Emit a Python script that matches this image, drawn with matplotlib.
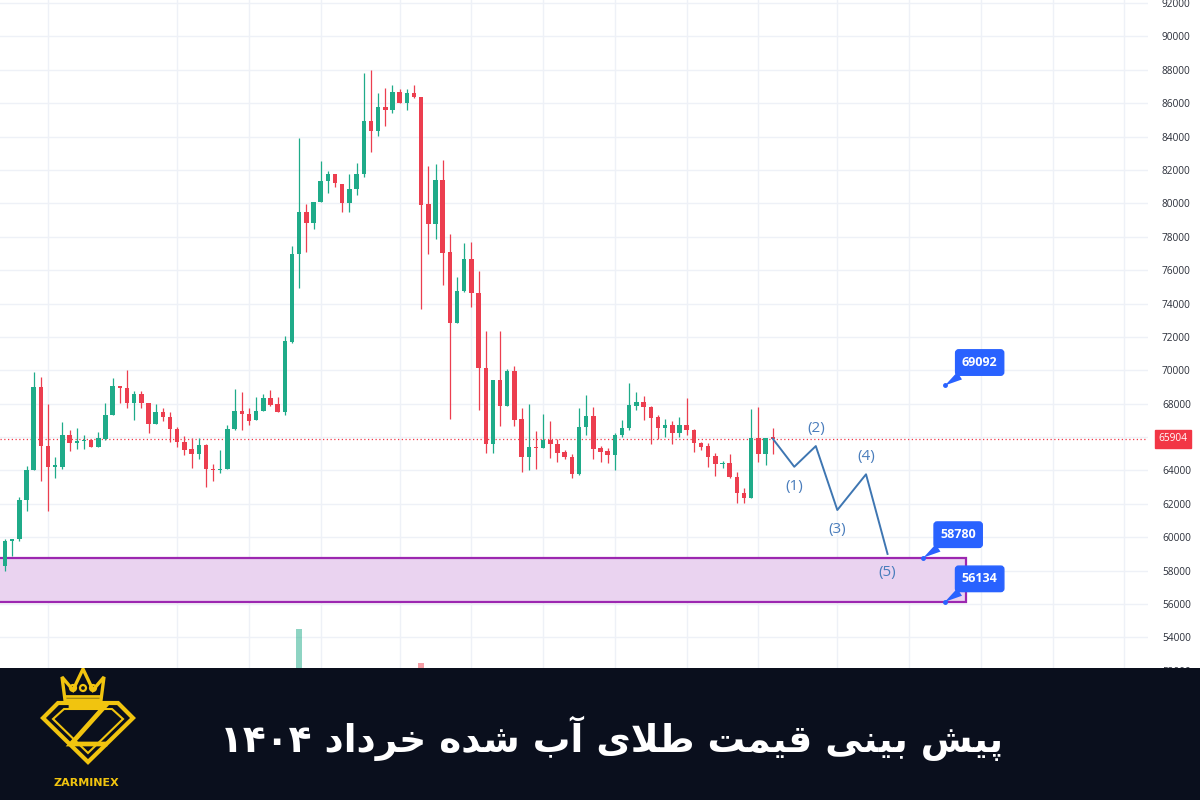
"""
Gold (melted) price forecast chart - candles, wave path, target zone and banner.
"""

import matplotlib
matplotlib.use("Agg")
import matplotlib.pyplot as plt
from matplotlib.patches import Rectangle, Polygon, Circle
from matplotlib.transforms import blended_transform_factory

# ---- candle data (index = candle number) ----
OPEN = [56500, 58260, 59800, 59870, 62230, 64020, 69010, 65480, 64200, 64200,
        66120, 65630, 65740, 65810, 65430, 65890, 67350, 69060, 68960, 68040,
        68580, 68070, 66790, 67480, 67220, 66500, 65680, 65300, 64970, 65510,
        64070, 64020, 64100, 66500, 67550, 67400, 67020, 67550, 68320, 67990,
        67480, 71700, 76960, 79460, 78800, 80100, 81340, 81760, 81140, 80040,
        80840, 81760, 84950, 84350, 85750, 85590, 86650, 86030, 86590, 86390,
        79960, 78760, 81400, 77060, 72850, 74770, 76640, 74610, 70160, 65560,
        69420, 67860, 69980, 67060, 64780, 65420, 65360, 65820, 65580, 65080,
        64780, 63790, 66620, 67260, 65320, 65160, 64920, 66120, 66520, 67880,
        68120, 67820, 67180, 66520, 66720, 66220, 66720, 66420, 65660, 65480,
        64880, 64370, 64430, 63630, 62630, 62330, 65960, 64980, 65960]
HIGH = [58300, 59870, 59870, 62410, 64280, 69910, 69600, 67990, 64790, 66890,
        66450, 66530, 66120, 65860, 66320, 68040, 69520, 69060, 70040, 68760,
        68760, 68070, 67990, 67730, 67480, 66630, 66070, 65940, 65940, 65610,
        64400, 65220, 66710, 68880, 68680, 67730, 68420, 68580, 68830, 68370,
        72080, 77460, 83890, 79960, 80100, 82540, 81960, 81760, 81140, 81760,
        82440, 87790, 87990, 86630, 86890, 87090, 86830, 86830, 87090, 86390,
        82260, 82360, 82600, 78160, 75610, 77600, 77700, 75970, 72370, 69420,
        72370, 70100, 70260, 67720, 67960, 66360, 67380, 66980, 65860, 65220,
        64980, 67720, 68520, 67820, 65480, 65320, 66260, 67020, 69260, 68680,
        68460, 67860, 67320, 67060, 66980, 67220, 68320, 66460, 65720, 65660,
        65020, 64590, 64980, 63930, 62930, 67660, 67820, 65960, 66520]
LOW = [56300, 58000, 58900, 59800, 61590, 64020, 63380, 61590, 63560, 64070,
       65170, 65300, 65300, 65380, 65430, 65810, 67300, 68070, 67730, 67040,
       67730, 66250, 66790, 66960, 65680, 65380, 64920, 64150, 64660, 63000,
       63380, 63820, 64100, 66400, 66450, 66710, 67020, 67550, 67860, 67480,
       67350, 71620, 74950, 77100, 78440, 80060, 80640, 80960, 79460, 79460,
       80500, 81600, 83090, 84030, 84630, 85390, 85990, 85590, 86290, 73670,
       76960, 77840, 75110, 67080, 72850, 74710, 73810, 67620, 65020, 65020,
       66660, 67860, 66660, 63930, 64030, 64070, 65360, 64720, 64520, 64660,
       63530, 63730, 66120, 64660, 64520, 64430, 64030, 66020, 66420, 67620,
       67020, 65580, 65860, 66020, 65580, 66020, 66120, 65120, 65220, 64230,
       63670, 64130, 63530, 62030, 62030, 62330, 64490, 64330, 64980]
CLOSE = [58100, 59800, 59870, 62230, 64020, 69010, 65480, 64200, 64350, 66120,
         65630, 65760, 65810, 65430, 65940, 67350, 69060, 68960, 68040, 68580,
         68070, 66790, 67480, 67220, 66500, 65680, 65220, 64970, 65510, 64070,
         64020, 64100, 66500, 67550, 67400, 66960, 67550, 68320, 67940, 67480,
         71750, 76950, 79460, 78800, 80100, 81340, 81760, 81200, 80040, 80840,
         81760, 84950, 84350, 85750, 85590, 86650, 86030, 86590, 86350, 79900,
         78760, 81400, 77000, 72850, 74770, 76640, 74610, 70160, 65560, 69420,
         67860, 69980, 67020, 64780, 65420, 65360, 65820, 65580, 65060, 64780,
         63790, 66620, 67260, 65280, 65120, 64920, 66120, 66520, 67920, 68120,
         67780, 67160, 66520, 66720, 66220, 66720, 66420, 65620, 65420, 64820,
         64370, 64430, 63590, 62630, 62330, 65960, 64980, 65960, 65904]

# volume bars that peek out above the banner
VOL_INDEX = [42, 59]
VOL_VALUE = [21.4, 17.1]

LAST_PRICE = 65904
PRICE_TICKS = list(range(52000, 92001, 2000))
TIME_GRID = [7, 25, 35, 45, 56, 66, 76, 86, 96, 106, 117, 127, 137, 147, 157]

# forecast wave path
WAVE_X = [108, 111, 114, 117, 121, 124]
WAVE_Y = [65904, 64220, 65460, 61630, 63770, 59000]
WAVE_LABELS = ["(1)", "(2)", "(3)", "(4)", "(5)"]
WAVE_LABEL_X = [111, 114, 117, 121, 124]
WAVE_LABEL_Y = [63030, 66540, 60480, 64830, 57870]

# support zone and price callouts
ZONE_LOW = 56134
ZONE_HIGH = 58780
ZONE_END = 135
CALLOUT_X = [132, 129, 132]
CALLOUT_Y = [69092, 58780, 56134]

TITLE = "پیش بینی قیمت طلای آب شده خرداد ۱۴۰۴"

UP = "#1fab89"
DOWN = "#ec3e4f"
GRID = "#eef1f7"

# Arabic presentation forms: isolated, final, initial, medial
FORMS = {
    "ا": ("\uFE8D", "\uFE8E", None, None),
    "آ": ("\uFE81", "\uFE82", None, None),
    "ب": ("\uFE8F", "\uFE90", "\uFE91", "\uFE92"),
    "پ": ("\uFB56", "\uFB57", "\uFB58", "\uFB59"),
    "ت": ("\uFE95", "\uFE96", "\uFE97", "\uFE98"),
    "خ": ("\uFEA5", "\uFEA6", "\uFEA7", "\uFEA8"),
    "د": ("\uFEA9", "\uFEAA", None, None),
    "ر": ("\uFEAD", "\uFEAE", None, None),
    "ش": ("\uFEB5", "\uFEB6", "\uFEB7", "\uFEB8"),
    "ط": ("\uFEC1", "\uFEC2", "\uFEC3", "\uFEC4"),
    "ق": ("\uFED5", "\uFED6", "\uFED7", "\uFED8"),
    "ل": ("\uFEDD", "\uFEDE", "\uFEDF", "\uFEE0"),
    "م": ("\uFEE1", "\uFEE2", "\uFEE3", "\uFEE4"),
    "ن": ("\uFEE5", "\uFEE6", "\uFEE7", "\uFEE8"),
    "ه": ("\uFEE9", "\uFEEA", "\uFEEB", "\uFEEC"),
    "ی": ("\uFBFC", "\uFBFD", "\uFBFE", "\uFBFF"),
    "لا": ("\uFEFB", "\uFEFC", None, None),
}


def shape_word(word: str) -> str:
    """Join Persian letters by hand and return them in visual (LTR) order."""
    if word.isdigit():
        return word
    tokens = []
    k = 0
    while k < len(word):
        if word[k] == "ل" and k + 1 < len(word) and word[k + 1] == "ا":
            tokens.append("لا")
            k += 2
        else:
            tokens.append(word[k])
            k += 1
    out = []
    for k, t in enumerate(tokens):
        forms = FORMS.get(t)
        if forms is None:
            out.append(t)
            continue
        prev_joins = k > 0 and tokens[k - 1] in FORMS and FORMS[tokens[k - 1]][2] is not None
        next_joins = k < len(tokens) - 1 and tokens[k + 1] in FORMS and forms[2] is not None
        if prev_joins and next_joins:
            out.append(forms[3])
        elif prev_joins:
            out.append(forms[1])
        elif next_joins:
            out.append(forms[2])
        else:
            out.append(forms[0])
    return "".join(reversed(out))


def shape_rtl(text: str) -> str:
    return " ".join(shape_word(w) for w in reversed(text.split(" ")))


def draw_candles(ax):
    for i, (o, h, l, c) in enumerate(zip(OPEN, HIGH, LOW, CLOSE)):
        col = UP if c >= o else DOWN
        ax.vlines(i, l, h, color=col, lw=0.9, zorder=3)
        body = max(abs(c - o), 70)
        ax.bar(i, body, bottom=min(o, c), width=0.62, color=col, lw=0, zorder=4)


def draw_logo(axb):
    gold = "#f1c40f"
    crown = [(65, 100), (62, 123), (73, 110), (83, 131), (93, 110), (104, 123), (101, 100)]
    axb.add_patch(Polygon(crown, closed=True, fill=False, ec=gold, lw=2.4, joinstyle="miter"))
    axb.plot([66, 100], [104, 104], color=gold, lw=2.0)
    for cx in (73, 83, 93):
        axb.add_patch(Circle((cx, 112), 3.0, fill=False, ec=gold, lw=1.6))
    gem = [(58, 97), (118, 97), (133, 82), (88, 38), (43, 82)]
    axb.add_patch(Polygon(gem, closed=True, fill=False, ec=gold, lw=3.0, joinstyle="miter"))
    inner = [(64, 91), (112, 91), (123, 81), (88, 47), (53, 81)]
    axb.add_patch(Polygon(inner, closed=True, fill=False, ec=gold, lw=1.5, joinstyle="miter"))
    axb.plot([71, 105, 71, 105], [94, 94, 56, 56], color=gold, lw=3.4, solid_joinstyle="miter")
    axb.text(86, 17, "ZARMINEX", color=gold, fontsize=8, fontweight="bold",
             ha="center", va="center", family="DejaVu Sans")


def main() -> None:
    fig = plt.figure(figsize=(12, 8), dpi=100, facecolor="white")
    ax = fig.add_axes([0, 0, 1148 / 1200, 1])
    ax.set_facecolor("white")

    ax.set_xlim(0.3, 160.3)
    ax.set_ylim(44260, 92180)

    for p in PRICE_TICKS:
        ax.axhline(p, color=GRID, lw=1, zorder=0)
    for g in TIME_GRID:
        ax.axvline(g, color=GRID, lw=1, zorder=0)

    # support zone
    x0 = ax.get_xlim()[0] - 2
    ax.add_patch(Rectangle((x0, ZONE_LOW), ZONE_END - x0, ZONE_HIGH - ZONE_LOW,
                           fc="#ead3f0", ec="#9c27b0", lw=1.6, zorder=1))

    ax.axhline(LAST_PRICE, color="#f23645", lw=0.9, ls=(0, (1, 2)), zorder=2)

    draw_candles(ax)

    # volume (twin axis, bottom aligned)
    axv = ax.twinx()
    axv.set_ylim(0, 100)
    axv.axis("off")
    vcols = [UP if CLOSE[i] >= OPEN[i] else DOWN for i in VOL_INDEX]
    axv.bar(VOL_INDEX, VOL_VALUE, width=0.8, color=vcols, alpha=0.5, lw=0)

    # forecast path
    ax.plot(WAVE_X, WAVE_Y, color="#3e76b2", lw=1.4, zorder=5)
    for lab, lx, ly in zip(WAVE_LABELS, WAVE_LABEL_X, WAVE_LABEL_Y):
        ax.text(lx, ly, lab, color="#4a7dbc", fontsize=11, ha="center", va="center",
                family="Open Sans", zorder=6)

    # price callouts
    for cx, cy in zip(CALLOUT_X, CALLOUT_Y):
        ax.annotate(f"{cy}", xy=(cx, cy), xytext=(25, 16.5), textcoords="offset points",
                    color="white", fontsize=9, fontweight="bold", family="Open Sans",
                    ha="center", va="center", zorder=7,
                    bbox=dict(boxstyle="round,pad=0.5,rounding_size=0.25",
                              fc="#2962ff", ec="#2962ff"),
                    arrowprops=dict(arrowstyle="wedge,tail_width=0.7,shrink_factor=0.5",
                                    fc="#2962ff", ec="none", shrinkA=0, shrinkB=0))
        ax.plot(cx, cy, "o", ms=2.5, color="#2962ff", zorder=7)

    # right price scale (the tick hidden behind the last-price tag is left blank)
    ax.yaxis.tick_right()
    ax.set_yticks(PRICE_TICKS)
    labels = ["" if abs(p - LAST_PRICE) < 1000 else str(p) for p in PRICE_TICKS]
    ax.set_yticklabels(labels, fontsize=7.3, color="#2a2e39", family="Open Sans")
    ax.tick_params(axis="y", length=0, pad=10)
    ax.set_xticks([])
    for s in ax.spines.values():
        s.set_visible(False)

    trans = blended_transform_factory(ax.transAxes, ax.transData)
    ax.text(1.0218, LAST_PRICE, str(LAST_PRICE), transform=trans, color="white",
            fontsize=7.3, family="Open Sans", ha="center", va="center", clip_on=False,
            bbox=dict(boxstyle="square,pad=0.35", fc="#f23645", ec="#f23645"))

    # bottom banner
    axb = fig.add_axes([0, 0, 1, 132 / 800])
    axb.set_facecolor("#0a0f1d")
    axb.set_xlim(0, 1200)
    axb.set_ylim(0, 132)
    axb.set_xticks([])
    axb.set_yticks([])
    for s in axb.spines.values():
        s.set_visible(False)
    draw_logo(axb)
    axb.text(612, 62, shape_rtl(TITLE), color="white", fontsize=27, fontweight="bold",
             ha="center", va="center", family=["DejaVu Sans"])

    fig.savefig("out.png", dpi=100)
    plt.close(fig)


if __name__ == "__main__":
    main()
